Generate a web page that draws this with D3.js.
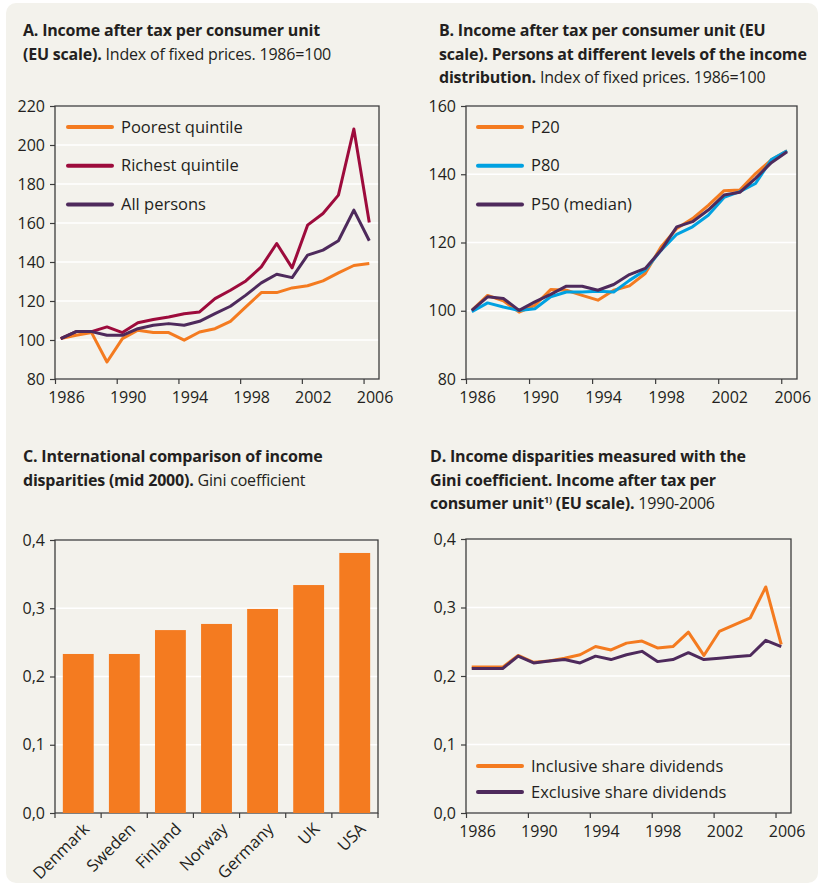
<!DOCTYPE html>
<html>
<head>
<meta charset="utf-8">
<script src="https://cdn.jsdelivr.net/npm/d3@7"></script>
<style>
  body { margin: 0; background: #fff; }
  svg text { font-family: "Open Sans", "Noto Sans", sans-serif; fill: #231f20; }
</style>
</head>
<body>
<script>
// ---- data ----
let years = d3.range(1986, 2007);

let poorest = [100.7, 102.4, 103.8, 88.7, 100.7, 105, 103.8, 103.8, 99.9, 104.1, 105.8, 109.6, 117, 124.3, 124.3, 126.7, 127.8, 130.3, 134.4, 138.2, 139.2];
let richest = [100.7, 104.3, 104.3, 106.7, 103.8, 108.8, 110.5, 111.8, 113.5, 114.4, 121.2, 125.5, 130.3, 137.5, 149.5, 137, 158.9, 164.9, 174.3, 208.2, 160.3];
let allPersons = [100.7, 104.3, 104.3, 102.4, 102.4, 105.8, 107.6, 108.4, 107.6, 109.6, 113.5, 117.3, 123, 129.3, 133.7, 132, 143.5, 146.1, 150.9, 166.6, 150.9];

let p20 = [100.1, 104.5, 102.9, 99.6, 101.6, 106.2, 106, 104.5, 103.1, 106, 107.3, 110.9, 118.7, 124.1, 127, 130.9, 135.2, 135.4, 140.2, 144.2, 146.9];
let p80 = [99.7, 102.3, 101.1, 100.1, 100.6, 104.1, 105.5, 105.5, 105.7, 105.5, 108.9, 111.9, 117.7, 122.4, 124.6, 128, 133.2, 134.9, 137.3, 144.3, 146.9];
let p50 = [100.1, 104.1, 103.6, 100.1, 102.6, 104.8, 107.2, 107.2, 106, 107.7, 110.6, 112.4, 117.7, 124.6, 126.1, 129.5, 133.9, 134.7, 138.8, 143.4, 146.6];

let countries = ["Denmark", "Sweden", "Finland", "Norway", "Germany", "UK", "USA"];
let gini = [0.233, 0.233, 0.268, 0.277, 0.299, 0.334, 0.381];

let inclusive = [0.213, 0.213, 0.213, 0.230, 0.220, 0.222, 0.226, 0.231, 0.243, 0.238, 0.248, 0.251, 0.241, 0.243, 0.264, 0.230, 0.265, 0.275, 0.285, 0.330, 0.246];
let exclusive = [0.211, 0.211, 0.211, 0.229, 0.219, 0.222, 0.224, 0.219, 0.229, 0.224, 0.231, 0.236, 0.221, 0.224, 0.234, 0.224, 0.226, 0.228, 0.230, 0.252, 0.243];

let yearTicks = [1986, 1990, 1994, 1998, 2002, 2006];

let orange = "#f47b20", crimson = "#9d0b3c", purple = "#4e2a5c", blue = "#00a1e1";

let svg = d3.select("body").append("svg")
    .attr("width", 821)
    .attr("height", 887);

svg.append("rect")
    .attr("x", 6).attr("y", 3)
    .attr("width", 812).attr("height", 880)
    .attr("rx", 10)
    .attr("fill", "#f3f2ec");

let commaFmt = d3.formatLocale({decimal: ",", thousands: " ", grouping: [3], currency: ["", ""]}).format(".1f");

// title: array of lines, each line is array of [text, bold, superscript]
function title(x, y, lines) {
    lines.forEach(function (parts, i) {
        let t = svg.append("text")
            .attr("x", x)
            .attr("y", y + i * 23.5)
            .style("font-size", "16px")
            .style("letter-spacing", "-0.2px");
        parts.forEach(function (p) {
            let ts = t.append("tspan")
                .text(p[0])
                .style("font-weight", p[1] ? 700 : 400);
            if (p[2] === "sup") ts.attr("dy", -6).style("font-size", "9px");
            if (p[2] === "down") ts.attr("dy", 6);
        });
    });
}

function frame(g, w, h, yScale, yTicks, fmt) {
    // white grid
    g.selectAll("line.grid").data(yTicks).enter().append("line")
        .attr("x1", 0).attr("x2", w)
        .attr("y1", d => yScale(d)).attr("y2", d => yScale(d))
        .attr("stroke", "#fff").attr("stroke-width", 1.5);

    let yAxis = g.append("g")
        .call(d3.axisLeft(yScale).tickValues(yTicks).tickSize(5).tickFormat(fmt));
    yAxis.select(".domain").remove();
    yAxis.selectAll("line").attr("stroke", "#3c3c3c").attr("stroke-width", 1.2);
    yAxis.selectAll("text").style("font-size", "16px").attr("x", -10).attr("fill", "#231f20");

    g.append("rect")
        .attr("width", w).attr("height", h)
        .attr("fill", "none")
        .attr("stroke", "#3c3c3c")
        .attr("stroke-width", 1.3);
}

function lineChart(opt) {
    let w = opt.right - opt.left, h = opt.bottom - opt.top;
    let g = svg.append("g").attr("transform", "translate(" + opt.left + "," + opt.top + ")");

    let x = d3.scaleLinear().domain([1986, 2007]).range([0, w]);
    let y = d3.scaleLinear().domain(opt.yDomain).range([h, 0]);

    frame(g, w, h, y, opt.yTicks, opt.fmt);

    let xAxis = g.append("g")
        .attr("transform", "translate(0," + h + ")")
        .call(d3.axisBottom(x).tickValues(yearTicks).tickSize(5).tickFormat(d3.format("d")));
    xAxis.select(".domain").remove();
    xAxis.selectAll("line").attr("stroke", "#3c3c3c").attr("stroke-width", 1.2);
    // labels sit a little right of their tick, as in the original
    xAxis.selectAll("text").style("font-size", "16px").attr("y", 13).attr("dx", 11).attr("fill", "#231f20");

    let line = d3.line()
        .x((d, i) => x(years[i] + 0.37))
        .y(d => y(d));

    opt.series.forEach(function (s) {
        g.append("path")
            .datum(s.values)
            .attr("d", line)
            .attr("fill", "none")
            .attr("stroke", s.color)
            .attr("stroke-width", 3)
            .attr("stroke-linejoin", "round");
    });

    // legend
    opt.series.forEach(function (s, i) {
        let ly = opt.legendY + i * opt.legendStep;
        g.append("line")
            .attr("x1", opt.legendX).attr("x2", opt.legendX + 44)
            .attr("y1", ly).attr("y2", ly)
            .attr("stroke", s.color)
            .attr("stroke-width", 4)
            .attr("stroke-linecap", "round");
        g.append("text")
            .attr("x", opt.legendX + 53)
            .attr("y", ly)
            .attr("dy", "0.35em")
            .style("font-size", "16.5px")
            .text(s.name);
    });
}

// ---- Panel A ----
title(23, 36, [
    [["A. Income after tax per consumer unit", true]],
    [["(EU scale).", true], ["  Index of fixed prices. 1986=100", false]]
]);
lineChart({
    left: 55, right: 379, top: 106, bottom: 379,
    yDomain: [80, 220], yTicks: d3.range(80, 221, 20), fmt: d3.format("d"),
    legendX: 13, legendY: 21, legendStep: 38.7,
    series: [
        {name: "Poorest quintile", color: orange, values: poorest},
        {name: "Richest quintile", color: crimson, values: richest},
        {name: "All persons", color: purple, values: allPersons}
    ]
});

// ---- Panel B ----
title(439, 36, [
    [["B. Income after tax per consumer unit (EU", true]],
    [["scale). Persons at different levels of the income", true]],
    [["distribution.", true], [" Index of fixed prices. 1986=100", false]]
]);
lineChart({
    left: 466, right: 797, top: 106, bottom: 379,
    yDomain: [80, 160], yTicks: [80, 100, 120, 140, 160], fmt: d3.format("d"),
    legendX: 12, legendY: 21, legendStep: 38.7,
    series: [
        {name: "P20", color: orange, values: p20},
        {name: "P80", color: blue, values: p80},
        {name: "P50 (median)", color: purple, values: p50}
    ]
});

// ---- Panel C ----
title(23, 462, [
    [["C. International comparison of income", true]],
    [["disparities (mid 2000).", true], [" Gini coefficient", false]]
]);
(function () {
    let left = 55, right = 378, top = 540, bottom = 813;
    let w = right - left, h = bottom - top;
    let g = svg.append("g").attr("transform", "translate(" + left + "," + top + ")");
    let x = d3.scaleBand().domain(countries).range([0, w]).paddingInner(0.33).paddingOuter(0.17);
    let y = d3.scaleLinear().domain([0, 0.4]).range([h, 0]);

    frame(g, w, h, y, [0, 0.1, 0.2, 0.3, 0.4], commaFmt);

    g.selectAll("rect.bar").data(gini).enter().append("rect")
        .attr("class", "bar")
        .attr("x", (d, i) => x(countries[i]))
        .attr("width", x.bandwidth())
        .attr("y", d => y(d))
        .attr("height", d => h - y(d))
        .attr("fill", orange);

    // tick marks between bars
    let step = w / countries.length;
    g.selectAll("line.sep").data(d3.range(0, countries.length + 1)).enter().append("line")
        .attr("x1", d => d * step).attr("x2", d => d * step)
        .attr("y1", h).attr("y2", h + 5)
        .attr("stroke", "#3c3c3c").attr("stroke-width", 1.2);

    g.selectAll("text.cat").data(countries).enter().append("text")
        .attr("transform", d => "translate(" + (x(d) + x.bandwidth() / 2 + 12) + "," + (h + 17) + ") rotate(-45)")
        .attr("text-anchor", "end")
        .style("font-size", "16.5px")
        .text(d => d);
})();

// ---- Panel D ----
title(430, 462, [
    [["D. Income disparities measured with the", true]],
    [["Gini coefficient. Income after tax per", true]],
    [["consumer unit", true], ["1)", true, "sup"], [" (EU scale).", true, "down"], [" 1990-2006", false]]
]);
lineChart({
    left: 466, right: 791, top: 539, bottom: 813,
    yDomain: [0, 0.4], yTicks: [0, 0.1, 0.2, 0.3, 0.4], fmt: commaFmt,
    legendX: 12, legendY: 227, legendStep: 26,
    series: [
        {name: "Inclusive share dividends", color: orange, values: inclusive},
        {name: "Exclusive share dividends", color: purple, values: exclusive}
    ]
});
</script>
</body>
</html>
